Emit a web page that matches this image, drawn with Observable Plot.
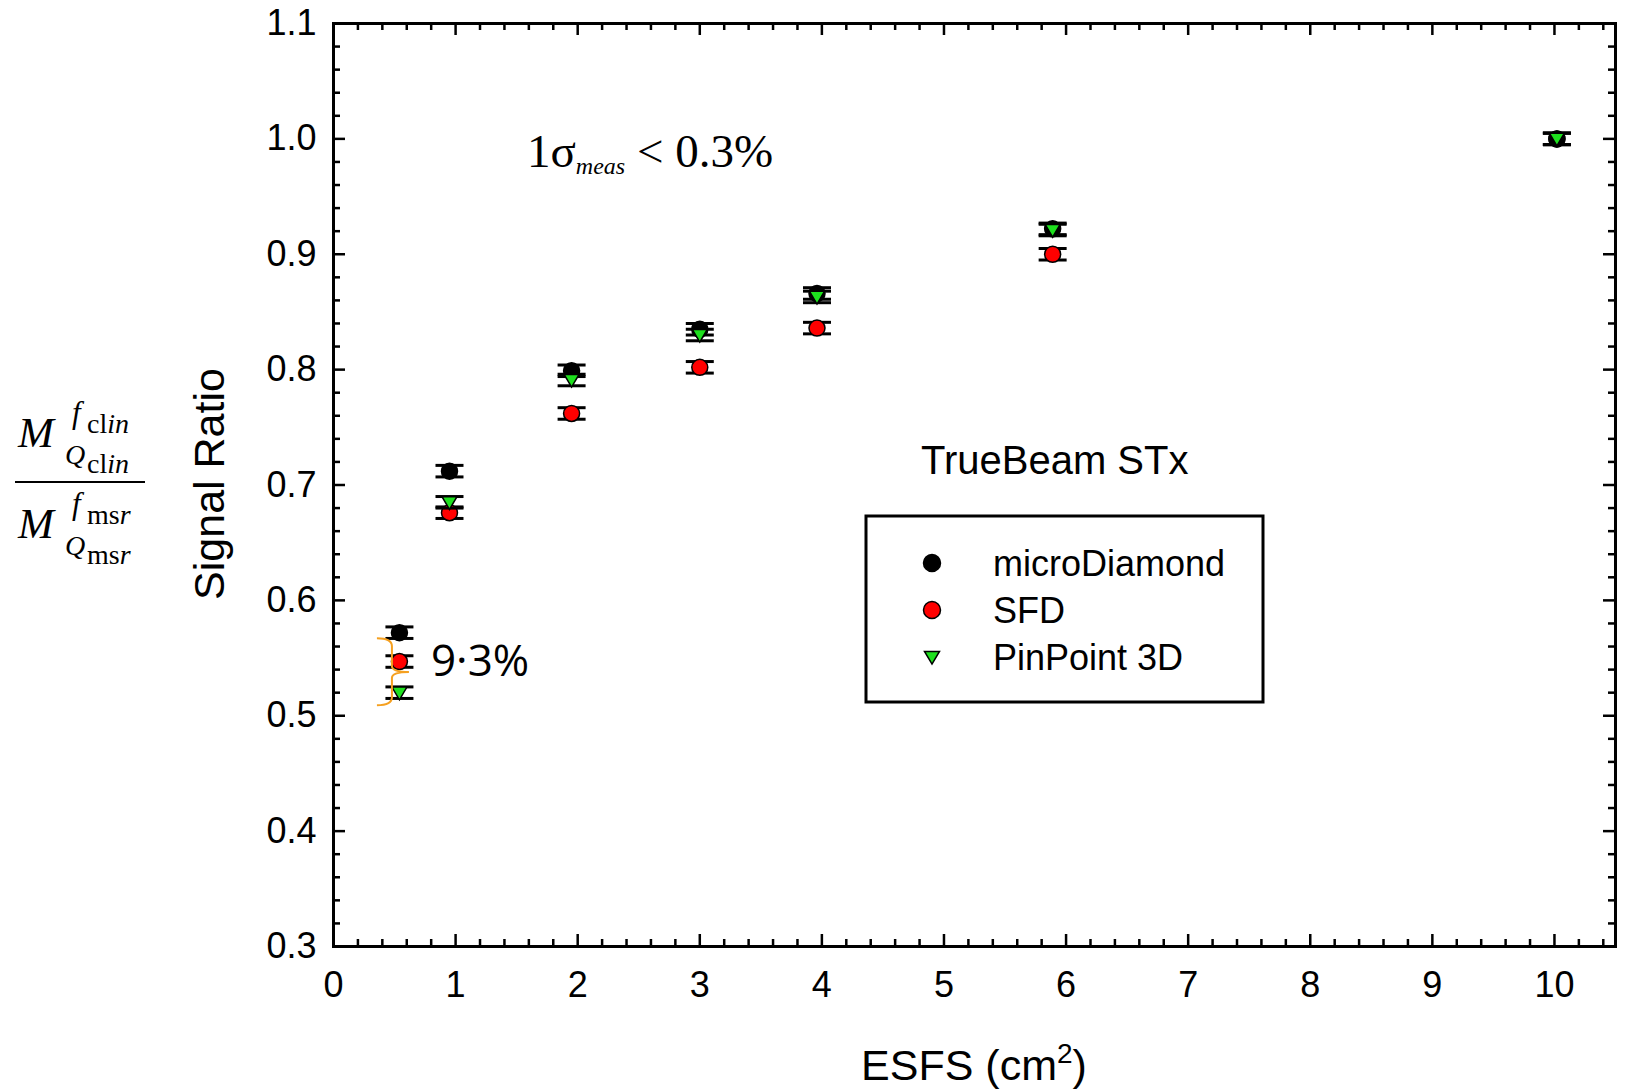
<!DOCTYPE html>
<html><head><meta charset="utf-8">
<script src="https://cdn.jsdelivr.net/npm/d3@7"></script>
<script src="https://cdn.jsdelivr.net/npm/@observablehq/plot@0.6"></script>
<style>
html,body{margin:0;padding:0;background:#fff;}
#wrap{position:relative;width:1627px;height:1091px;overflow:hidden;}
</style></head><body><div id="wrap"></div>
<script>
// ---- data ----
const esfs = [0.54, 0.95, 1.95, 3.0, 3.96, 5.89, 10.02];
const microDiamond = [0.572, 0.712, 0.799, 0.835, 0.866, 0.922, 1.0];
const sfd = [0.547, 0.676, 0.762, 0.802, 0.836, 0.900, 1.0];
const pinPoint = [0.520, 0.685, 0.791, 0.830, 0.863, 0.921, 1.0];
const errBar = 0.005;
const seriesNames = ["microDiamond", "SFD", "PinPoint 3D"];
const seriesColors = ["#000000", "#ff0000", "#1ee01e"];
const xTickLabels = [0, 1, 2, 3, 4, 5, 6, 7, 8, 9, 10];
const yTickLabels = [0.3, 0.4, 0.5, 0.6, 0.7, 0.8, 0.9, 1.0, 1.1];

// ---- layout ----
const W = 1627, H = 1091, mL = 333, mR = 12, mT = 23, mB = 145;
const fw = W - mL - mR, fh = H - mT - mB;

const triDown = {draw(ctx, size) {
  const r = Math.sqrt(size / Math.PI);
  ctx.moveTo(-r, -r * 0.75); ctx.lineTo(r, -r * 0.75); ctx.lineTo(0, r * 0.95); ctx.closePath();
}};
const hline = {draw(ctx, size) {
  const r = Math.sqrt(size / Math.PI);
  ctx.moveTo(-r, 0); ctx.lineTo(r, 0);
}};

const series = [microDiamond, sfd, pinPoint].map((vals, s) =>
  esfs.map((x, i) => ({x, y: vals[i], name: seriesNames[s]})));

const xMinor = d3.range(0, 10.5 + 1e-9, 0.2).filter(v => Math.abs(v - Math.round(v)) > 1e-6);
const yMinor = d3.range(0.3, 1.1 + 1e-9, 0.02).filter(v => Math.abs(v * 10 - Math.round(v * 10)) > 1e-6);

const tickStyle = {stroke: "black", strokeWidth: 2.5};
const majorLen = 12, minorLen = 7;

function seriesMarks(data, s) {
  const marks = [
    Plot.ruleX(data, {x: "x", y1: d => d.y - errBar, y2: d => d.y + errBar, stroke: "black", strokeWidth: 2.5}),
    Plot.dot(data, {x: "x", y: d => d.y + errBar, symbol: hline, r: 14, stroke: "black", strokeWidth: 3}),
    Plot.dot(data, {x: "x", y: d => d.y - errBar, symbol: hline, r: 14, stroke: "black", strokeWidth: 3})
  ];
  if (s === 2) marks.push(Plot.dot(data, {x: "x", y: "y", symbol: triDown, r: 7.5, fill: seriesColors[s], stroke: "black", strokeWidth: 1.5}));
  else marks.push(Plot.dot(data, {x: "x", y: "y", r: 8, fill: seriesColors[s], stroke: "black", strokeWidth: 1.5}));
  return marks;
}
// drawing order as in the reference: SFD, microDiamond, PinPoint 3D on top
const drawOrder = [1, 0, 2];

const chart = Plot.plot({
  width: W, height: H, marginLeft: mL, marginRight: mR, marginTop: mT, marginBottom: mB,
  style: {fontFamily: "'Liberation Sans', Arial, sans-serif", fontSize: "36px", color: "black", background: "white", overflow: "visible"},
  x: {domain: [0, 10.5], label: null},
  y: {domain: [0.3, 1.1], label: null},
  marks: [
    Plot.tickX(xTickLabels, {x: d => d, insetTop: fh - majorLen, ...tickStyle}),
    Plot.tickX(xMinor, {x: d => d, insetTop: fh - minorLen, ...tickStyle}),
    Plot.tickX(xTickLabels, {x: d => d, insetBottom: fh - majorLen, ...tickStyle}),
    Plot.tickX(xMinor, {x: d => d, insetBottom: fh - minorLen, ...tickStyle}),
    Plot.tickY(yTickLabels, {y: d => d, insetRight: fw - majorLen, ...tickStyle}),
    Plot.tickY(yMinor, {y: d => d, insetRight: fw - minorLen, ...tickStyle}),
    Plot.tickY(yTickLabels, {y: d => d, insetLeft: fw - majorLen, ...tickStyle}),
    Plot.tickY(yMinor, {y: d => d, insetLeft: fw - minorLen, ...tickStyle}),
    Plot.axisX(xTickLabels, {tickSize: 0, tickPadding: 25, tickFormat: d => String(d), label: null}),
    Plot.axisY(yTickLabels, {tickSize: 0, tickPadding: 17, tickFormat: d3.format(".1f"), label: null}),
    ...drawOrder.flatMap(s => seriesMarks(series[s], s)),
    Plot.frame({stroke: "black", strokeWidth: 3})
  ]
});
document.getElementById("wrap").appendChild(chart);

// ---- annotations ----
const sx = chart.scale("x"), sy = chart.scale("y");
const xs = d3.scaleLinear(sx.domain, sx.range), ys = d3.scaleLinear(sy.domain, sy.range);
const svg = d3.select(chart).append("g").attr("text-anchor", "start");
const sans = "'Liberation Sans', Arial, sans-serif";
const serif = "'Liberation Serif', 'Times New Roman', serif";

// y axis title
svg.append("text").attr("transform", "translate(224,484) rotate(-90)")
  .attr("text-anchor", "middle").attr("font-family", sans).attr("font-size", 43).attr("fill", "black")
  .text("Signal Ratio");

// x axis title
const xt = svg.append("text").attr("x", 974).attr("y", 1080).attr("text-anchor", "middle")
  .attr("font-family", sans).attr("font-size", 43).attr("fill", "black");
xt.append("tspan").text("ESFS (cm");
xt.append("tspan").attr("font-size", 28).attr("dy", -17).text("2");
xt.append("tspan").attr("dy", 17).text(")");

// fraction label on the left
const frac = svg.append("g").attr("font-family", serif).attr("fill", "black");
function fracPart(dy, top, bot) {
  frac.append("text").attr("x", 18).attr("y", 447 + dy).attr("font-size", 43).attr("font-style", "italic").text("M");
  frac.append("text").attr("x", 72).attr("y", 423 + dy).attr("font-size", 31).attr("font-style", "italic").text("f");
  const t1 = frac.append("text").attr("x", 87).attr("y", 433 + dy).attr("font-size", 28);
  t1.append("tspan").text(top[0]); t1.append("tspan").attr("font-style", "italic").text(top[1]);
  frac.append("text").attr("x", 65).attr("y", 464 + dy).attr("font-size", 28).attr("font-style", "italic").text("Q");
  const t2 = frac.append("text").attr("x", 87).attr("y", 473 + dy).attr("font-size", 28);
  t2.append("tspan").text(bot[0]); t2.append("tspan").attr("font-style", "italic").text(bot[1]);
}
fracPart(0, ["cl", "in"], ["cl", "in"]);
fracPart(91, ["ms", "r"], ["ms", "r"]);
frac.append("line").attr("x1", 15).attr("x2", 145).attr("y1", 482).attr("y2", 482).attr("stroke", "black").attr("stroke-width", 2);

// 1 sigma annotation
const sg = svg.append("text").attr("x", 527).attr("y", 167).attr("font-family", serif).attr("font-size", 47).attr("fill", "black");
sg.append("tspan").text("1σ");
sg.append("tspan").attr("font-size", 24).attr("font-style", "italic").attr("dy", 7).text("meas");
sg.append("tspan").attr("dy", -7).text(" < 0.3%");

// TrueBeam STx
svg.append("text").attr("x", 921).attr("y", 474).attr("font-family", sans).attr("font-size", 40).attr("fill", "black").text("TrueBeam STx");

// legend
const lg = svg.append("g");
lg.append("rect").attr("x", 866).attr("y", 516).attr("width", 397).attr("height", 186)
  .attr("fill", "white").attr("stroke", "black").attr("stroke-width", 3);
const rowY = [563, 610, 657];
seriesNames.forEach((name, i) => {
  const sym = i === 2 ? triDown : d3.symbolCircle;
  const r = i === 2 ? 7.5 : 8.5;
  lg.append("path").attr("transform", `translate(932,${rowY[i]})`)
    .attr("d", d3.symbol(sym, r * r * Math.PI)())
    .attr("fill", seriesColors[i]).attr("stroke", "black").attr("stroke-width", 1.5);
  lg.append("text").attr("x", 993).attr("y", rowY[i] + 13).attr("font-family", sans).attr("font-size", 36)
    .attr("fill", "black").text(name);
});

// 9.3% spread bracket at the smallest field
const bx = xs(esfs[0]);
const yTop = ys(microDiamond[0]) + 6, yBot = ys(pinPoint[0]) + 13, yMid = ys(sfd[0]) + 11;
const x0 = bx - 22, x1 = bx - 7, xTip = bx + 10;
svg.append("path").attr("fill", "none").attr("stroke", "#f5a020").attr("stroke-width", 2)
  .attr("d", `M${x0},${yTop} Q${x1},${yTop} ${x1},${yTop + 8} L${x1},${yMid - 6} Q${x1},${yMid} ${xTip},${yMid}`
    + ` M${xTip},${yMid} Q${x1},${yMid} ${x1},${yMid + 6} L${x1},${yBot - 8} Q${x1},${yBot} ${x0},${yBot}`);
svg.append("text").attr("x", bx + 32).attr("y", ys(sfd[0]) + 15)
  .attr("font-family", "'Open Sans', 'Noto Sans', sans-serif").attr("font-size", 44).attr("fill", "black")
  .text("9·3%");
</script></body></html>
